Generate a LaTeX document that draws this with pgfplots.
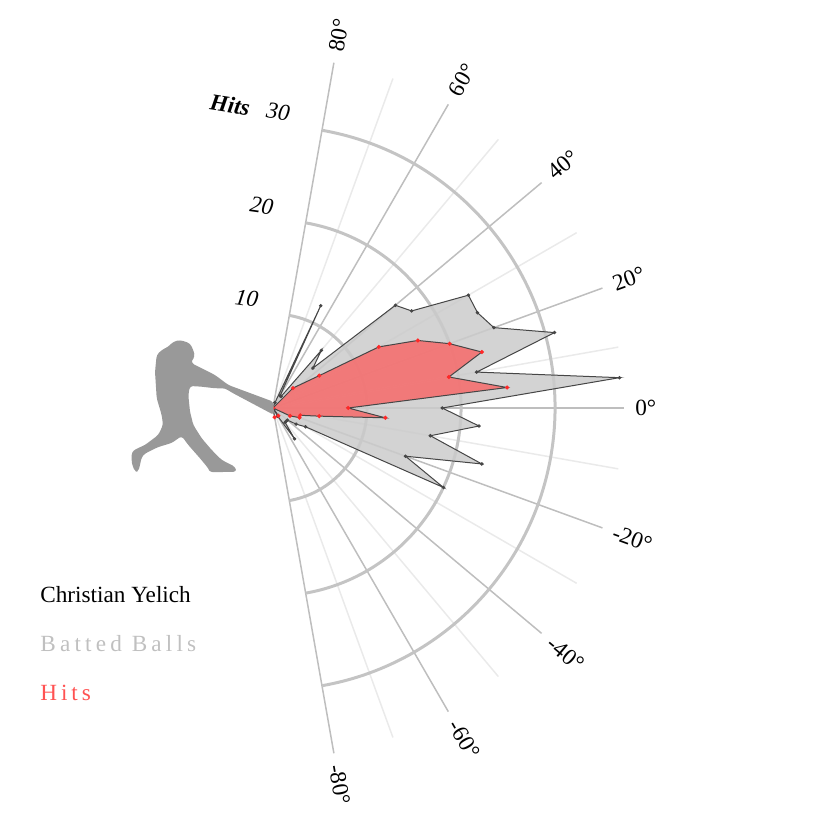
\documentclass[border=0pt]{standalone}
\usepackage{pgfplots}
\pgfplotsset{compat=1.18}
\usepackage{fontspec}
\setmainfont{Liberation Serif}
\definecolor{majgrid}{RGB}{190,190,190}
\definecolor{mingrid}{RGB}{234,234,234}
\definecolor{arcgray}{RGB}{196,196,196}
\definecolor{ballfill}{RGB}{203,203,203}
\definecolor{hitfill}{RGB}{250,100,100}
\definecolor{hitdot}{RGB}{255,40,40}
\definecolor{edge}{RGB}{70,70,70}
\definecolor{batter}{RGB}{153,153,153}
\definecolor{legendgray}{RGB}{192,192,192}
\definecolor{legendred}{RGB}{255,82,82}
\begin{document}
\begin{tikzpicture}
\fontsize{11.6}{13}\selectfont
\begin{axis}[
  x=4.7pt, y=4.7pt,
  xmin=-29.0426, xmax=57.4468, ymin=-43.0851, ymax=43.4043,
  hide axis, clip=false,
]
% grid
\pgfplotsinvokeforeach{-70,-50,...,70}{
  \draw[mingrid, line width=0.75pt] (axis cs:0,0) -- (axis cs:{37.3*cos(#1)},{37.3*sin(#1)});
}
\pgfplotsinvokeforeach{-80,-60,...,80}{
  \draw[majgrid, line width=0.75pt] (axis cs:0,0) -- (axis cs:{37.3*cos(#1)},{37.3*sin(#1)});
  \node[anchor=west, rotate=#1, inner sep=0pt, font=\fontsize{11.6}{13}\selectfont] at (axis cs:{38.5*cos(#1)},{38.5*sin(#1)}) {#1°};
}
\pgfplotsinvokeforeach{10,20,30}{
  \draw[arcgray, line width=1.5pt] (axis cs:{#1*cos(80)},{#1*sin(80)}) arc[start angle=80, end angle=-80, radius=#1*4.7pt];
}
% batted balls
\addplot[data cs=polar, draw=edge, line width=0.5pt, fill=ballfill, fill opacity=0.85,
  mark=*, mark size=0.6pt, mark options={fill=edge, draw=edge, fill opacity=1}] coordinates {
  (75,0) (70,0.6) (65,12) (60,1.5) (55,1.5) (50,8) (45,6) (40,17) (35,18) (30,24)
  (25,24) (20,25) (15,31) (10,22) (5,37) (0,18) (-5,22) (-10,17) (-15,23)
  (-20,15) (-25,20) (-30,4) (-35,3) (-40,2) (-45,2) (-50,2) (-55,4) (-60,1) (-65,0)
} -- cycle;
% hits
\addplot[data cs=polar, draw=edge, line width=0.5pt, fill=hitfill, fill opacity=0.8,
  mark=*, mark size=0.75pt, mark options={fill=hitdot, draw=hitdot, fill opacity=1}] coordinates {
  (50,0) (45,3) (35,6) (30,13) (25,17) (20,20) (15,23) (10,19) (5,25) (0,8)
  (-5,12) (-10,5) (-15,3) (-20,3) (-25,2) (-30,0) (-55,1) (-60,0) (-80,1) (-85,0)
} -- cycle;
% radial labels
\node[rotate=-8, font=\itshape\fontsize{11.6}{13}\selectfont] at (axis cs:-2.79,11.67) {10};
\node[rotate=-8, font=\itshape\fontsize{11.6}{13}\selectfont] at (axis cs:-1.2,21.52) {20};
\node[rotate=-8, font=\itshape\fontsize{11.6}{13}\selectfont] at (axis cs:0.56,31.52) {30};
\node[rotate=-9, font=\bfseries\itshape\fontsize{11.6}{13}\selectfont] at (axis cs:-4.57,32.22) {Hits};
\coordinate (TL) at (axis cs:-29.0426,43.4043);
\coordinate (BR) at (axis cs:57.4468,-43.0851);
\end{axis}
\begin{scope}[shift={(TL)}, x=0.5pt, y=-0.5pt]
\fill[batter, rounded corners=1.5pt] (173.3,341.7) -- (180,340) -- (190,343.3) -- (193.3,350) -- (195,356.7)
 -- (191.7,360) -- (191.7,363.3) -- (205,370) -- (215,375) -- (221.7,380) -- (228.3,385)
 -- (273.3,401.7) -- (274,415) -- (231.7,392.5) -- (225,388.3) -- (215,388.3) -- (201.7,386.7)
 -- (190,386) -- (188.3,395) -- (190,411.7) -- (193.3,425) -- (201.7,438.3) -- (211.7,450)
 -- (221.7,460) -- (228.3,463.3) -- (235,466.7) -- (236.7,471.7) -- (210,472.3) -- (208.3,468.3)
 -- (200,458.3) -- (188.3,445) -- (181.7,436) -- (171.7,443) -- (158.3,447) -- (145,453.5)
 -- (141.7,457) -- (140,465) -- (138.3,471.7) -- (135,471.7) -- (131.7,463.3) -- (131.7,452)
 -- (136,449) -- (145,445) -- (158.3,435) -- (163,425) -- (161.7,415) -- (156.7,398.3)
 -- (155,371.7) -- (156.7,355) -- (161.7,350) -- (168.3,346.7) -- cycle;
\node[anchor=base west, inner sep=0pt] at (40,603) {Christian Yelich};
\node[anchor=base west, inner sep=0pt, text=legendgray] at (40,652) {\addfontfeatures{LetterSpace=18}Batted Balls};
\node[anchor=base west, inner sep=0pt, text=legendred] at (40,701) {\addfontfeatures{LetterSpace=17}Hits};
\end{scope}
\pgfresetboundingbox
\useasboundingbox (TL) rectangle (BR);
\end{tikzpicture}
\end{document}
